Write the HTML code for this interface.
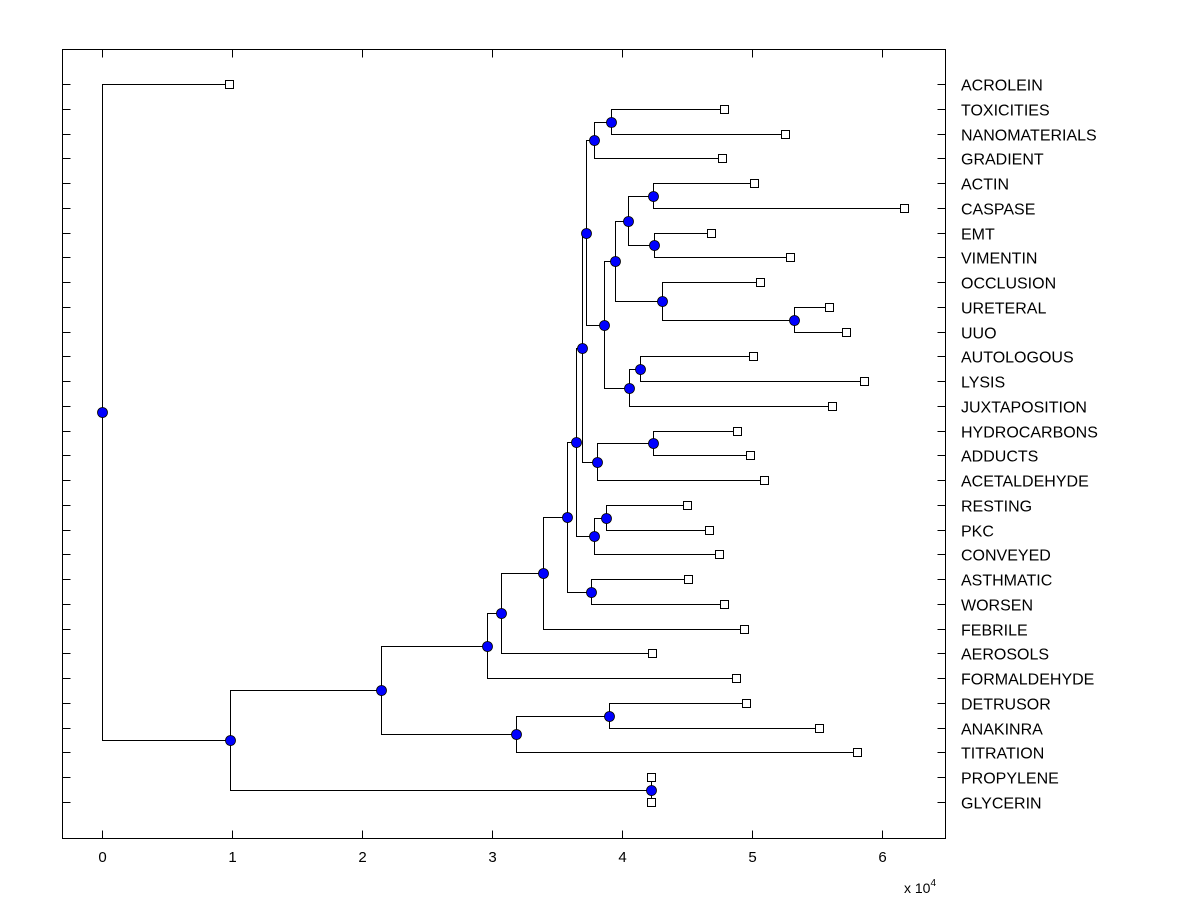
<!DOCTYPE html>
<html><head><meta charset="utf-8"><style>
body{margin:0;background:#fff;}
svg{display:block;font-family:"Liberation Sans",Arial,sans-serif;}
</style></head><body>
<svg id="chart" width="1200" height="900"></svg>
<script>
const leafNames=["ACROLEIN","TOXICITIES","NANOMATERIALS","GRADIENT","ACTIN","CASPASE","EMT","VIMENTIN","OCCLUSION","URETERAL","UUO","AUTOLOGOUS","LYSIS","JUXTAPOSITION","HYDROCARBONS","ADDUCTS","ACETALDEHYDE","RESTING","PKC","CONVEYED","ASTHMATIC","WORSEN","FEBRILE","AEROSOLS","FORMALDEHYDE","DETRUSOR","ANAKINRA","TITRATION","PROPYLENE","GLYCERIN"];
const leafValues=[0.977,4.785,5.254,4.77,5.015,6.17,4.685,5.29,5.06,5.59,5.72,5.01,5.86,5.615,4.885,4.985,5.09,4.5,4.67,4.745,4.51,4.785,4.94,4.23,4.875,4.955,5.515,5.81,4.22,4.22];
const nodeChildren=[
["L1","L2"],["N0","L3"],["L4","L5"],["L6","L7"],["N2","N3"],["L9","L10"],["L8","N5"],["N4","N6"],
["L11","L12"],["N8","L13"],["N7","N9"],["N1","N10"],["L14","L15"],["N12","L16"],["N11","N13"],
["L17","L18"],["N15","L19"],["N14","N16"],["L20","L21"],["N17","N18"],["N19","L22"],["N20","L23"],
["N21","L24"],["L25","L26"],["N23","L27"],["N22","N24"],["L28","L29"],["N25","N26"],["L0","N27"]];
const nodeValues=[3.915,3.785,4.24,4.245,4.045,5.32,4.31,3.945,4.14,4.055,3.86,3.72,4.24,3.81,3.69,3.875,3.785,3.645,3.76,3.575,3.39,3.07,2.96,3.9,3.185,2.146,4.22,0.985,0];
const xTicks=[0,1,2,3,4,5,6];

const NS="http://www.w3.org/2000/svg";
const svg=document.getElementById('chart');
const L=62.5,R=945.5,T=49.5,B=838.5;
const X=v=>Math.round(102+v*130)+0.5;
const Y=i=>Math.round(84+i*(802-84)/(leafNames.length-1))+0.5;
function mk(tag,attrs,parent){const e=document.createElementNS(NS,tag);for(const k in attrs)e.setAttribute(k,attrs[k]);(parent||svg).appendChild(e);return e;}

const frame=mk('rect',{x:L,y:T,width:R-L,height:B-T,fill:'none',stroke:'#000','stroke-width':1,'shape-rendering':'crispEdges'});



xTicks.forEach(t=>{
  const x=X(t);
  const g=mk('g',{'shape-rendering':'crispEdges'});
  
  
  mk('line',{x1:x,y1:B,x2:x,y2:B-8,stroke:'#000'},g);
  mk('line',{x1:x,y1:T,x2:x,y2:T+8,stroke:'#000'},g);
  const tx=mk('text',{x:x,y:862,'text-anchor':'middle','font-size':15},g);
  tx.textContent=t;
});
const ex=mk('text',{x:904,y:893,'font-size':14});


ex.innerHTML='x 10<tspan dy="-7" font-size="10">4</tspan>';

leafNames.forEach((n,i)=>{
  const y=Y(i);
  const g=mk('g',{'shape-rendering':'crispEdges'});
  
  
  mk('line',{x1:L,y1:y,x2:L+8,y2:y,stroke:'#000'},g);
  mk('line',{x1:R,y1:y,x2:R-8,y2:y,stroke:'#000'},g);
  const t=mk('text',{x:961,y:y+6,'font-size':16},g);
  t.textContent=n;
});

const pos={};
leafNames.forEach((n,i)=>{pos['L'+i]={x:leafValues[i],y:Y(i)};});
nodeChildren.forEach((c,i)=>{pos['N'+i]={x:nodeValues[i],y:Math.round((pos[c[0]].y+pos[c[1]].y)/2-0.5)+0.5};});

const lines=mk('g',{'shape-rendering':'crispEdges'});


nodeChildren.forEach((c,i)=>{
  const p=pos['N'+i],a=pos[c[0]],b=pos[c[1]];
  const xp=X(p.x);
  const path=mk('path',{d:`M${X(a.x)},${a.y}H${xp}V${b.y}H${X(b.x)}`,fill:'none',stroke:'#000','stroke-width':1},lines);
  
  
});
leafNames.forEach((n,i)=>{
  const p=pos['L'+i];
  const r=mk('rect',{x:X(p.x)-4,y:p.y-4,width:8,height:8,fill:'#fff',stroke:'#000','shape-rendering':'crispEdges'});
  
  
});
nodeChildren.forEach((c,i)=>{
  const p=pos['N'+i];
  const ci=mk('circle',{cx:X(p.x),cy:p.y,r:5,fill:'#0000ff',stroke:'#000','stroke-width':0.8});
  
  
});
</script>
</body></html>
